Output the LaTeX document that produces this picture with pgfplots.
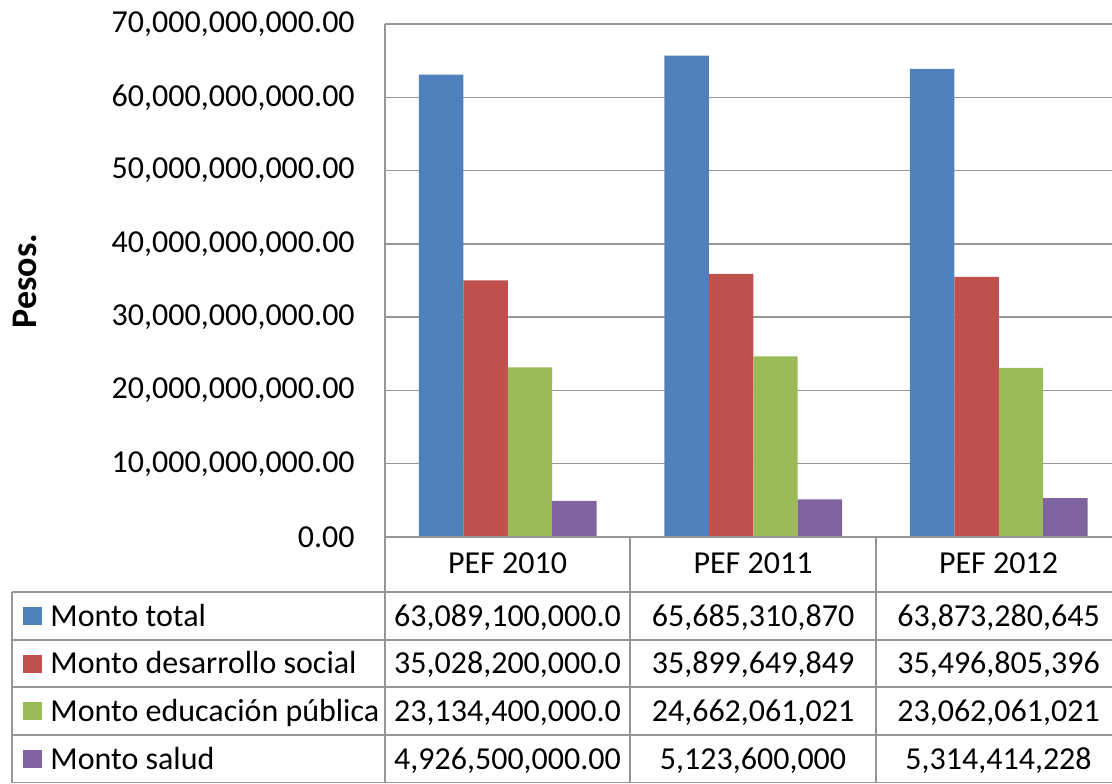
\documentclass[border=0pt]{standalone}
\usepackage{fontspec}
\setmainfont{Carlito}
\usepackage{pgfplots}
\pgfplotsset{compat=1.18}
\definecolor{c1}{HTML}{4F81BD}
\definecolor{c2}{HTML}{C0504D}
\definecolor{c3}{HTML}{9BBB59}
\definecolor{c4}{HTML}{8064A2}
\definecolor{gridc}{HTML}{969696}
\begin{document}
\begin{tikzpicture}[font=\fontsize{16}{19}\selectfont]
  \begin{axis}[
    at={(192.5pt,123pt)}, anchor=south west,
    width=368.25pt, height=256.5pt, scale only axis,
    xmin=0.5, xmax=3.5, ymin=0, ymax=70000000000,
    ybar=0pt, bar width=0.181,
    xtick=\empty,
    scaled y ticks=false,
    ytick={0,10000000000,20000000000,30000000000,40000000000,50000000000,60000000000,70000000000},
    yticklabels={{0.00},{10,000,000,000.00},{20,000,000,000.00},{30,000,000,000.00},{40,000,000,000.00},{50,000,000,000.00},{60,000,000,000.00},{70,000,000,000.00}},
    yticklabel style={inner sep=0pt, xshift=-15pt},
    ymajorgrids, major grid style={draw=gridc, line width=0.75pt},
    axis line style={draw=none}, tick style={draw=none},
    clip=false,
  ]
    \addplot[fill=c1, draw=none] coordinates {(1,63089100000) (2,65685310870) (3,63873280645)};
    \addplot[fill=c2, draw=none] coordinates {(1,35028200000) (2,35899649849) (3,35496805396)};
    \addplot[fill=c3, draw=none] coordinates {(1,23134400000) (2,24662061021) (3,23062061021)};
    \addplot[fill=c4, draw=none] coordinates {(1,4926500000) (2,5123600000) (3,5314414228)};
  \end{axis}
  \begin{scope}[x=0.5pt, y=-0.5pt, shift={(0,391.5pt)}]
    % axis and data table lines
    \draw[gridc, line width=0.75pt] (385,24) -- (385,783);
    \draw[gridc, line width=0.75pt] (385,537) -- (1125,537);
    \draw[gridc, line width=0.75pt] (630,537) -- (630,783);
    \draw[gridc, line width=0.75pt] (876,537) -- (876,783);
    \draw[gridc, line width=0.75pt] (12,592) -- (12,783);
    \foreach \yy in {592,640,687,735,782.5}
      \draw[gridc, line width=0.75pt] (12,\yy) -- (1125,\yy);
    % y label
    \node[rotate=90, font=\fontsize{18}{21}\selectfont\bfseries] at (25,281) {Pesos.};
    % header
    \node[anchor=base, inner sep=0] at (507.5,573) {PEF 2010};
    \node[anchor=base, inner sep=0] at (753,573) {PEF 2011};
    \node[anchor=base, inner sep=0] at (998.5,573) {PEF 2012};
    % rows
    \fill[c1] (23,607) rectangle (42,625);
    \node[anchor=base west, inner sep=0] at (50,626) {Monto total};
    \node[anchor=base, inner sep=0] at (507.5,626) {63,089,100,000.0};
    \node[anchor=base, inner sep=0] at (753,626) {65,685,310,870};
    \node[anchor=base, inner sep=0] at (998.5,626) {63,873,280,645};
    \fill[c2] (23,654.5) rectangle (42,672.5);
    \node[anchor=base west, inner sep=0] at (50,673.5) {Monto desarrollo social};
    \node[anchor=base, inner sep=0] at (507.5,673.5) {35,028,200,000.0};
    \node[anchor=base, inner sep=0] at (753,673.5) {35,899,649,849};
    \node[anchor=base, inner sep=0] at (998.5,673.5) {35,496,805,396};
    \fill[c3] (23,702) rectangle (42,720);
    \node[anchor=base west, inner sep=0] at (50,721) {Monto educación pública};
    \node[anchor=base, inner sep=0] at (507.5,721) {23,134,400,000.0};
    \node[anchor=base, inner sep=0] at (753,721) {24,662,061,021};
    \node[anchor=base, inner sep=0] at (998.5,721) {23,062,061,021};
    \fill[c4] (23,750) rectangle (42,768);
    \node[anchor=base west, inner sep=0] at (50,769) {Monto salud};
    \node[anchor=base, inner sep=0] at (507.5,769) {4,926,500,000.00};
    \node[anchor=base, inner sep=0] at (753,769) {5,123,600,000};
    \node[anchor=base, inner sep=0] at (998.5,769) {5,314,414,228};
  \end{scope}
  \pgfresetboundingbox
  \path[use as bounding box] (0,0) rectangle (556pt,391.5pt);
\end{tikzpicture}
\end{document}
